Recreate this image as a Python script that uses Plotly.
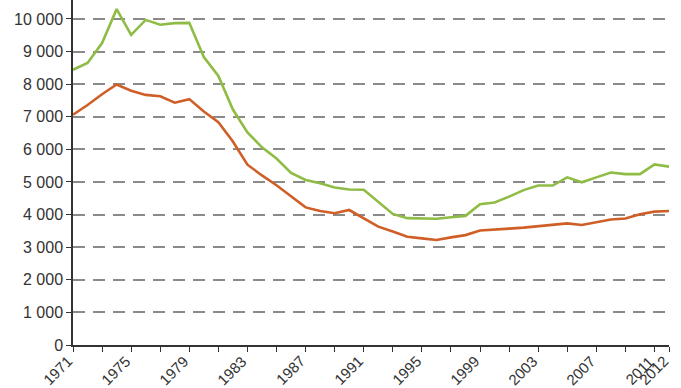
import plotly.graph_objects as go

years = list(range(1971, 2013))
green = [8440, 8650, 9260, 10300, 9510, 9970, 9820, 9870, 9880, 8830,
         8250, 7220, 6520, 6060, 5720, 5280, 5060, 4960, 4830, 4770,
         4760, 4380, 4020, 3890, 3870, 3870, 3920, 3960, 4320, 4370,
         4550, 4750, 4890, 4890, 5140, 4990, 5140, 5290, 5240, 5240,
         5540, 5470]
orange = [7060, 7360, 7690, 7990, 7800, 7670, 7630, 7430, 7540, 7160,
          6830, 6240, 5530, 5200, 4900, 4560, 4220, 4110, 4040, 4140,
          3890, 3630, 3480, 3320, 3270, 3220, 3300, 3370, 3510, 3530,
          3570, 3600, 3640, 3670, 3730, 3680, 3760, 3850, 3880, 4010,
          4090, 4110]

ytick_vals = list(range(0, 11000, 1000))
ytick_text = ["0", "1 000", "2 000", "3 000", "4 000", "5 000", "6 000",
              "7 000", "8 000", "9 000", "10 000"]
xtick_vals = list(range(1971, 2012, 2)) + [2012]
xlabel_years = list(range(1971, 2012, 4)) + [2012]

fig = go.Figure()
fig.add_trace(go.Scatter(x=years, y=green, mode="lines",
                         line=dict(color="#8fbc45", width=2.6), showlegend=False))
fig.add_trace(go.Scatter(x=years, y=orange, mode="lines",
                         line=dict(color="#cf5f27", width=2.6), showlegend=False))

for yr in xlabel_years:
    fig.add_annotation(x=yr, y=0, xref="x", yref="paper", text=str(yr),
                       showarrow=False, textangle=-45, xanchor="right",
                       yanchor="top", xshift=5, yshift=-5,
                       font=dict(size=15, color="#333333"))

fig.update_layout(
    width=681, height=388,
    margin=dict(l=73, r=12, t=0, b=43),
    paper_bgcolor="white", plot_bgcolor="white",
    font=dict(family="Arial, Liberation Sans", size=16, color="#333333"),
)
fig.update_xaxes(
    range=[1971, 2012], tickvals=xtick_vals, showticklabels=False,
    showgrid=False, zeroline=False, automargin=False,
    showline=True, linecolor="#333", linewidth=1.5,
    ticks="outside", ticklen=5, tickcolor="#333", tickwidth=1.2,
)
fig.update_yaxes(
    range=[0, 10580], tickvals=ytick_vals, ticktext=ytick_text,
    showgrid=True, gridcolor="#8a8a8a", gridwidth=1.5, griddash="12px,8px",
    zeroline=False, showline=True, linecolor="#333", linewidth=1.5,
    ticks="outside", ticklen=5, tickcolor="#333", tickwidth=1.2,
    automargin=False,
)

fig.write_html("out.html")
